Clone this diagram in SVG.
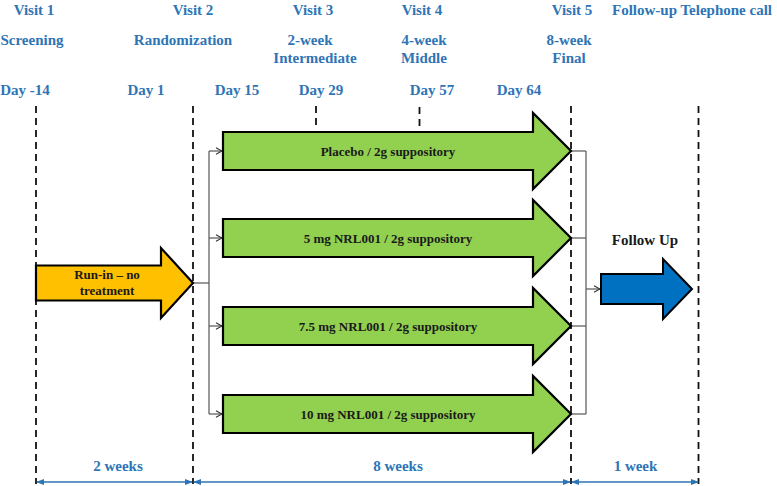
<svg xmlns="http://www.w3.org/2000/svg" width="777" height="486" viewBox="0 0 777 486">
<defs>
<style>
.hdr{font-family:"Liberation Serif","Times New Roman",serif;font-weight:bold;font-size:15px;fill:#2E75B6;text-anchor:middle}
.lbl{font-family:"Liberation Serif","Times New Roman",serif;font-weight:bold;font-size:13px;fill:#1a1a1a;text-anchor:middle}
.fu{font-family:"Liberation Serif","Times New Roman",serif;font-weight:bold;font-size:15px;fill:#1a1a1a;text-anchor:middle}
.dash{stroke:#111;stroke-width:1.8;stroke-dasharray:7 5;fill:none}
.conn{stroke:#555;stroke-width:1.2;fill:none}
.span{stroke:#2E75B6;stroke-width:1.5;fill:none}
.green{fill:#92D050;stroke:#000;stroke-width:2.2;stroke-linejoin:miter}
.orange{fill:#FFC000;stroke:#000;stroke-width:2.2}
.blue{fill:#0070C0;stroke:#000;stroke-width:2}
</style>
<marker id="open" markerWidth="8" markerHeight="8" refX="7" refY="4" orient="auto" markerUnits="userSpaceOnUse">
<path d="M1,0.8 L7,4 L1,7.2" fill="none" stroke="#333" stroke-width="1.1"/>
</marker>
<marker id="tri" markerWidth="8" markerHeight="8" refX="7" refY="4" orient="auto-start-reverse" markerUnits="userSpaceOnUse">
<path d="M0,1 L8,4 L0,7 Z" fill="#2E75B6"/>
</marker>
</defs>
<rect width="777" height="486" fill="#fff"/>

<g id="header">
<text class="hdr" x="34" y="15">Visit 1</text>
<text class="hdr" x="32" y="44.5">Screening</text>
<text class="hdr" x="25" y="94.5">Day -14</text>
<text class="hdr" x="193" y="15">Visit 2</text>
<text class="hdr" x="183" y="44.5">Randomization</text>
<text class="hdr" x="146" y="94.5">Day 1</text>
<text class="hdr" x="237" y="94.5">Day 15</text>
<text class="hdr" x="313" y="15">Visit 3</text>
<text class="hdr" x="310" y="44.5">2-week</text>
<text class="hdr" x="315" y="62.5">Intermediate</text>
<text class="hdr" x="321" y="94.5">Day 29</text>
<text class="hdr" x="422" y="15">Visit 4</text>
<text class="hdr" x="424" y="44.5">4-week</text>
<text class="hdr" x="424" y="62.5">Middle</text>
<text class="hdr" x="432" y="94.5">Day 57</text>
<text class="hdr" x="519" y="94.5">Day 64</text>
<text class="hdr" x="572" y="15">Visit 5</text>
<text class="hdr" x="569" y="44.5">8-week</text>
<text class="hdr" x="569" y="62.5">Final</text>
<text class="hdr" x="692" y="15">Follow-up Telephone call</text>
</g>

<g id="timelines">
<line class="dash" x1="36" y1="106" x2="36" y2="484"/>
<line class="dash" x1="193" y1="106" x2="193" y2="484"/>
<line class="dash" x1="571" y1="106" x2="571" y2="484"/>
<line class="dash" x1="698.5" y1="106" x2="698.5" y2="484"/>
<line class="dash" x1="316" y1="106" x2="316" y2="126"/>
<line class="dash" x1="419.5" y1="107" x2="419.5" y2="126"/>
</g>

<g id="connectors">
<polyline class="conn" points="193,283 209,283"/>
<line class="conn" x1="209" y1="151" x2="209" y2="414"/>
<line class="conn" x1="209" y1="151" x2="222" y2="151" marker-end="url(#open)"/>
<line class="conn" x1="209" y1="238" x2="222" y2="238" marker-end="url(#open)"/>
<line class="conn" x1="209" y1="326" x2="222" y2="326" marker-end="url(#open)"/>
<line class="conn" x1="209" y1="414" x2="222" y2="414" marker-end="url(#open)"/>
<line class="conn" x1="571" y1="151" x2="586" y2="151"/>
<line class="conn" x1="571" y1="238" x2="586" y2="238"/>
<line class="conn" x1="571" y1="326" x2="586" y2="326"/>
<line class="conn" x1="571" y1="414" x2="586" y2="414"/>
<line class="conn" x1="586" y1="151" x2="586" y2="414"/>
<line class="conn" x1="586" y1="289" x2="600" y2="289" marker-end="url(#open)"/>
</g>

<g id="runin">
<path class="orange" d="M36,265.5 H161 V248 L193,283 L161,318 V300.5 H36 Z"/>
<text class="lbl" x="107" y="279">Run-in – no</text>
<text class="lbl" x="107" y="295">treatment</text>
</g>

<g id="placebo">
<path class="green" d="M223,132 H533 V113 L571,151 L533,189 V170 H223 Z"/>
<text class="lbl" x="388" y="155.5">Placebo / 2g suppository</text>
</g>
<g id="dose5">
<path class="green" d="M223,219 H533 V200 L571,238 L533,276 V257 H223 Z"/>
<text class="lbl" x="388" y="242.5">5 mg NRL001 / 2g suppository</text>
</g>
<g id="dose75">
<path class="green" d="M223,307 H533 V288 L571,326 L533,364 V345 H223 Z"/>
<text class="lbl" x="388" y="330.5">7.5 mg NRL001 / 2g suppository</text>
</g>
<g id="dose10">
<path class="green" d="M223,395 H533 V376 L571,414 L533,452 V433 H223 Z"/>
<text class="lbl" x="388" y="418.5">10 mg NRL001 / 2g suppository</text>
</g>

<g id="followup">
<text class="fu" x="645" y="245">Follow Up</text>
<path class="blue" d="M601,274 H663 V259 L692,289 L663,319 V304 H601 Z"/>
</g>

<g id="durations">
<line class="span" x1="37" y1="482" x2="192" y2="482" marker-start="url(#tri)" marker-end="url(#tri)"/>
<line class="span" x1="194" y1="482" x2="570" y2="482" marker-start="url(#tri)" marker-end="url(#tri)"/>
<line class="span" x1="572" y1="482" x2="698" y2="482" marker-start="url(#tri)" marker-end="url(#tri)"/>
<text class="hdr" x="118" y="470.5">2 weeks</text>
<text class="hdr" x="398" y="470.5">8 weeks</text>
<text class="hdr" x="635.5" y="470.5">1 week</text>
</g>
</svg>
